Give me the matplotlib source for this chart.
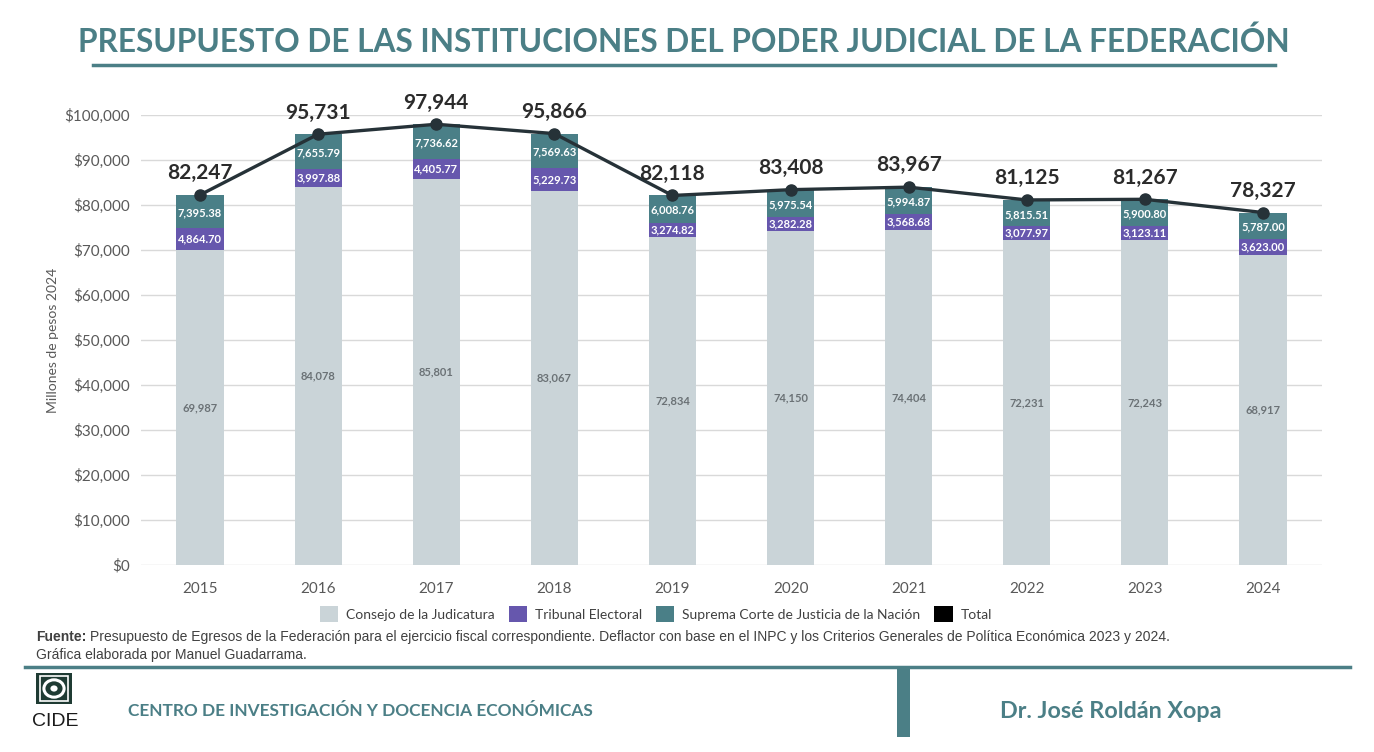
import matplotlib
matplotlib.use("Agg")
import matplotlib.pyplot as plt
from matplotlib.patches import Patch, Rectangle, Circle, Wedge
from matplotlib.lines import Line2D
import numpy as np

years = ["2015", "2016", "2017", "2018", "2019", "2020", "2021", "2022", "2023", "2024"]
consejo = [69987, 84078, 85801, 83067, 72834, 74150, 74404, 72231, 72243, 68917]
tribunal = [4864.70, 3997.88, 4405.77, 5229.73, 3274.82, 3282.28, 3568.68, 3077.97, 3123.11, 3623.00]
suprema = [7395.38, 7655.79, 7736.62, 7569.63, 6008.76, 5975.54, 5994.87, 5815.51, 5900.80, 5787.00]
total = [82247, 95731, 97944, 95866, 82118, 83408, 83967, 81125, 81267, 78327]
series_names = ["Consejo de la Judicatura", "Tribunal Electoral",
                "Suprema Corte de Justicia de la Nación", "Total"]
yticks = [0, 10000, 20000, 30000, 40000, 50000, 60000, 70000, 80000, 90000, 100000]

C_CONS = "#cad4d8"
C_TRIB = "#6657ad"
C_SUP = "#4a7f87"
C_TOT = "#263238"
TEAL = "#4b7f86"

W, H = 1374, 752
fig = plt.figure(figsize=(W / 100, H / 100), dpi=100)
fig.patch.set_facecolor("white")

def fx(px):
    return px / W

def fy(py):
    return 1 - py / H

ax = fig.add_axes([fx(141), fy(565), fx(1322) - fx(141), fy(115) - fy(565)])
x = np.arange(len(years))
bw = 0.4
cons = np.array(consejo)
trib = np.array(tribunal)
sup = np.array(suprema)

ax.bar(x, cons, bw, color=C_CONS, zorder=2)
ax.bar(x, trib, bw, bottom=cons, color=C_TRIB, zorder=2)
ax.bar(x, sup, bw, bottom=cons + trib, color=C_SUP, zorder=2)
ax.plot(x, total, color=C_TOT, lw=2.4, marker="o", ms=8, zorder=4)

for i in range(len(years)):
    ax.text(x[i], cons[i] / 2, f"{consejo[i]:,.0f}", ha="center", va="center",
            fontsize=8, color="#6b7276", family="Lato", fontweight="bold", zorder=5)
    ax.text(x[i], cons[i] + trib[i] / 2, f"{tribunal[i]:,.2f}", ha="center", va="center",
            fontsize=8, color="white", family="Lato", fontweight="bold", zorder=5)
    ax.text(x[i], cons[i] + trib[i] + sup[i] / 2 - 300, f"{suprema[i]:,.2f}", ha="center", va="center",
            fontsize=8, color="white", family="Lato", fontweight="bold", zorder=5)
    ax.text(x[i], total[i] + 2600, f"{total[i]:,.0f}", ha="center", va="bottom",
            fontsize=15, color="#2b2b2b", family="Lato", fontweight="bold", zorder=5, clip_on=False)

ax.set_xlim(-0.5, len(years) - 0.5)
ax.set_ylim(0, 100000)
ax.set_yticks(yticks)
ax.set_yticklabels([f"${v:,.0f}" for v in yticks])
ax.set_xticks(x)
ax.set_xticklabels(years)
ax.grid(axis="y", color="#d9d9d9", lw=1, zorder=0)
ax.set_axisbelow(True)
for s in ax.spines.values():
    s.set_visible(False)
ax.tick_params(length=0, labelsize=11, colors="#595959", pad=8)
for lab in ax.get_xticklabels() + ax.get_yticklabels():
    lab.set_family("Lato")
ax.tick_params(axis="x", pad=12)
ax.set_ylabel("Millones de pesos 2024", fontsize=10, color="#595959", family="Lato", labelpad=4)

# title
fig.text(fx(684), fy(42), "PRESUPUESTO DE LAS INSTITUCIONES DEL PODER JUDICIAL DE LA FEDERACIÓN",
         ha="center", va="center", fontsize=22.8, color=TEAL, family="Lato", fontweight="bold")
fig.add_artist(Line2D([fx(93), fx(1275)], [fy(65), fy(65)], color=TEAL, lw=2.5))

# legend
handles = [Patch(facecolor=C_CONS), Patch(facecolor=C_TRIB), Patch(facecolor=C_SUP), Patch(facecolor="black")]
leg = fig.legend(handles, series_names, loc="center", bbox_to_anchor=(fx(656), fy(614)), ncol=4,
                 frameon=False, handlelength=1.3, handleheight=1.3,
                 columnspacing=1.0, handletextpad=0.6, prop={"family": "Lato", "size": 10})
for t in leg.get_texts():
    t.set_color("#404040")

# source
fig.text(fx(36), fy(637), "Fuente:", ha="left", va="center", fontsize=10, color="#404040",
         family="Liberation Sans", fontweight="bold")
fig.text(fx(90), fy(637), "Presupuesto de Egresos de la Federación para el ejercicio fiscal correspondiente. "
         "Deflactor con base en el INPC y los Criterios Generales de Política Económica 2023 y 2024.",
         ha="left", va="center", fontsize=10, color="#404040", family="Liberation Sans")
fig.text(fx(36), fy(655), "Gráfica elaborada por Manuel Guadarrama.", ha="left", va="center",
         fontsize=10, color="#404040", family="Liberation Sans")

# footer
fig.add_artist(Line2D([fx(25), fx(1350)], [fy(667), fy(667)], color=TEAL, lw=2.5))
fig.add_artist(Rectangle((fx(897), fy(737)), fx(13), fy(667) - fy(737), transform=fig.transFigure,
                         facecolor=TEAL, edgecolor="none"))
# CIDE logo (simplified)
ax_logo = fig.add_axes([fx(36), fy(704), fx(36), fy(673) - fy(704)])
ax_logo.set_xlim(0, 1); ax_logo.set_ylim(0, 1); ax_logo.axis("off")
ax_logo.add_patch(Rectangle((0, 0), 1, 1, facecolor="#1f3b33", edgecolor="none"))
ax_logo.add_patch(Rectangle((0.1, 0.1), 0.8, 0.8, facecolor="none", edgecolor="white", lw=1.2))
ax_logo.add_patch(Circle((0.5, 0.5), 0.28, facecolor="none", edgecolor="white", lw=2.2))
ax_logo.add_patch(Circle((0.5, 0.5), 0.1, facecolor="white", edgecolor="none"))
fig.text(fx(55), fy(722), "CIDE", ha="center", va="center", fontsize=14, color="#1a1a1a",
         family="Liberation Sans")
fig.text(fx(128), fy(711), "CENTRO DE INVESTIGACIÓN Y DOCENCIA ECONÓMICAS", ha="left", va="center",
         fontsize=12.4, color=TEAL, family="Lato", fontweight="bold")
fig.text(fx(1111), fy(712), "Dr. José Roldán Xopa", ha="center", va="center",
         fontsize=16.8, color=TEAL, family="Lato", fontweight="bold")

fig.savefig("out.png", dpi=100, facecolor="white")
